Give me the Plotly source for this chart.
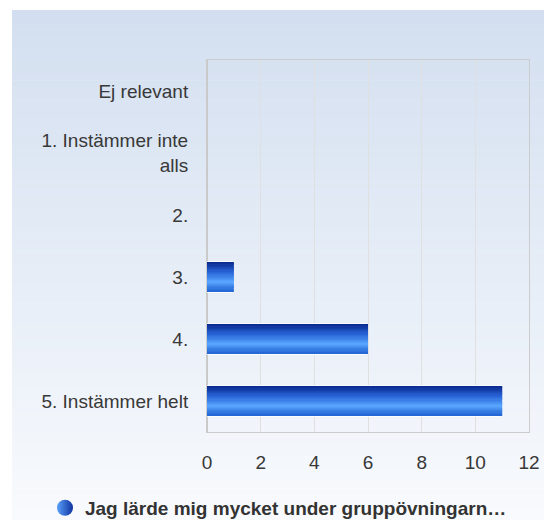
import plotly.graph_objects as go

# Survey answers (count of respondents per option)
categories = ["Ej relevant", "1. Instämmer inte<br>alls", "2.", "3.", "4.", "5. Instämmer helt"]
counts = [0, 0, 0, 1, 6, 11]
series_name = "Jag lärde mig mycket under gruppövningarn…"
x_ticks = [0, 2, 4, 6, 8, 10, 12]

W, H = 544, 520
L, R, T, B = 207, 15, 60, 88
plot_w = W - L - R
plot_h = H - T - B


def lerp(c1, c2, t):
    return tuple(round(a + (b - a) * t) for a, b in zip(c1, c2))


def rgb(c):
    return "rgb(%d,%d,%d)" % c


fig = go.Figure()

# Panel background: vertical gradient built from thin rectangles
top_col, bot_col = (211, 223, 240), (248, 250, 253)
px0, px1 = 12, W
py0, py1 = 10, H
n_bg = 80
for i in range(n_bg):
    ya = py0 + (py1 - py0) * i / n_bg
    yb = py0 + (py1 - py0) * (i + 1) / n_bg + 0.6
    fig.add_shape(
        type="rect", xref="paper", yref="paper", layer="below",
        x0=(px0 - L) / plot_w, x1=(px1 - L) / plot_w,
        y0=(H - B - yb) / plot_h, y1=(H - B - ya) / plot_h,
        fillcolor=rgb(lerp(top_col, bot_col, i / (n_bg - 1))),
        line=dict(width=0),
    )

# Bars: white outline, then stacked stripes for the vertical gradient
bar_w = 0.47
fig.add_trace(go.Bar(
    x=counts, y=categories, orientation="h", width=bar_w + 0.04,
    marker=dict(color="white", line=dict(width=0), cornerradius=3),
    showlegend=False, hoverinfo="skip",
))

stops = [(0.0, (8, 38, 140)), (0.35, (40, 100, 215)), (0.68, (88, 165, 255)), (1.0, (35, 100, 210))]


def grad(t):
    for (t0, c0), (t1, c1) in zip(stops, stops[1:]):
        if t <= t1:
            return lerp(c0, c1, (t - t0) / (t1 - t0))
    return stops[-1][1]


n_str = 24
sw = bar_w / n_str
for k in range(n_str):
    t = (k + 0.5) / n_str
    fig.add_trace(go.Bar(
        x=counts, y=categories, orientation="h",
        width=sw * 1.25, offset=-bar_w / 2 + k * sw,
        marker=dict(color=rgb(grad(t)), line=dict(width=0)),
        showlegend=False, hoverinfo="skip",
    ))

# Legend entry
fig.add_trace(go.Scatter(
    x=[None], y=[None], mode="markers", name=series_name,
    marker=dict(symbol="circle", size=16, color="rgb(90,160,250)",
                gradient=dict(type="horizontal", color="rgb(15,50,160)")),
))

fig.update_layout(
    width=W, height=H,
    margin=dict(l=L, r=R, t=T, b=B, autoexpand=False),
    paper_bgcolor="white",
    plot_bgcolor="rgba(0,0,0,0)",
    barmode="overlay",
    font=dict(family="Liberation Sans, Arial, sans-serif", size=19, color="#383838"),
    showlegend=True,
    legend=dict(
        orientation="h", x=0.222, xanchor="center", y=-0.204, yanchor="middle",
        font=dict(size=19, weight="bold", color="#333333"),
        bgcolor="rgba(0,0,0,0)", itemwidth=30,
    ),
    xaxis=dict(
        range=[0, 12], tickvals=x_ticks, showgrid=True, gridcolor="#e0e0e0",
        gridwidth=1, zeroline=False, showline=True, mirror=True,
        linecolor="#cccccc", linewidth=1, ticks="", ticklabelstandoff=13,
        fixedrange=True, automargin=False,
    ),
    yaxis=dict(
        type="category", categoryorder="array", categoryarray=categories,
        autorange="reversed", showgrid=False, showline=True, mirror=True,
        linecolor="#cccccc", linewidth=1, ticks="", ticklabelstandoff=14,
        fixedrange=True, automargin=False,
    ),
)

# Darker axis line at zero
fig.add_shape(type="line", xref="x", yref="paper", x0=0, x1=0, y0=0, y1=1,
              line=dict(color="#c8c8c8", width=2), layer="below")

fig.write_html("out.html")
